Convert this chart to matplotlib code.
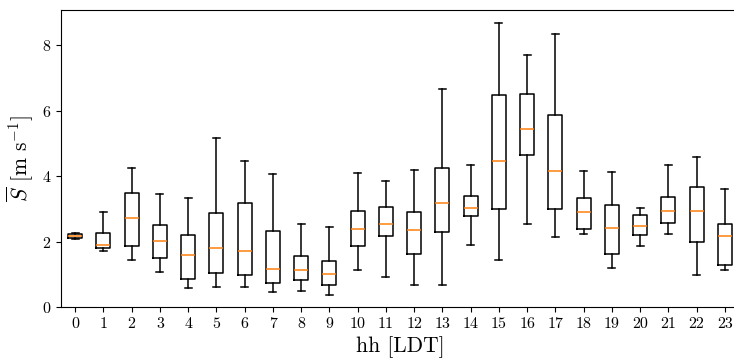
import matplotlib
matplotlib.use("Agg")
import matplotlib.pyplot as plt

# hourly wind speed statistics
hours = list(range(24))
whis_lo = [2.07, 1.71, 1.43, 1.06, 0.58, 0.62, 0.60, 0.45, 0.50, 0.37, 1.14, 0.91,
           0.69, 0.69, 1.89, 1.45, 2.53, 2.14, 2.24, 1.19, 1.86, 2.22, 0.98, 1.12]
q1 = [2.11, 1.82, 1.87, 1.50, 0.85, 1.03, 0.97, 0.73, 0.84, 0.67, 1.88, 2.16,
      1.62, 2.31, 2.79, 3.01, 4.64, 3.01, 2.39, 1.62, 2.21, 2.58, 1.99, 1.30]
med = [2.16, 1.90, 2.72, 2.02, 1.58, 1.82, 1.71, 1.16, 1.14, 1.01, 2.40, 2.53,
       2.35, 3.18, 3.02, 4.46, 5.45, 4.15, 2.92, 2.42, 2.48, 2.95, 2.95, 2.17]
q3 = [2.22, 2.26, 3.50, 2.51, 2.21, 2.87, 3.18, 2.32, 1.55, 1.42, 2.95, 3.06,
      2.92, 4.26, 3.41, 6.49, 6.53, 5.86, 3.33, 3.13, 2.82, 3.36, 3.66, 2.53]
whis_hi = [2.26, 2.92, 4.26, 3.47, 3.34, 5.18, 4.47, 4.06, 2.53, 2.46, 4.10, 3.85,
           4.20, 6.67, 4.34, 8.69, 7.72, 8.35, 4.16, 4.13, 3.02, 4.35, 4.58, 3.60]

plt.rcParams['font.family'] = 'serif'
plt.rcParams['font.serif'] = ['cmr10']
plt.rcParams['mathtext.fontset'] = 'cm'
plt.rcParams['axes.unicode_minus'] = False
plt.rcParams['axes.formatter.use_mathtext'] = True

stats = []
for i in range(len(hours)):
    stats.append(dict(whislo=whis_lo[i], q1=q1[i], med=med[i], q3=q3[i],
                      whishi=whis_hi[i], fliers=[], label=str(hours[i])))

fig = plt.figure(figsize=(7.34, 3.6), dpi=100)
# axes runs a little past the right edge, as in the cropped original
ax = fig.add_axes([0.0831, 0.147, 1.0068 - 0.0831, 0.9736 - 0.147])
lw = 1.1
ax.bxp(stats, positions=hours, widths=0.5, showfliers=False,
       boxprops=dict(linewidth=lw), whiskerprops=dict(linewidth=lw),
       capprops=dict(linewidth=lw), medianprops=dict(linewidth=lw))

ax.set_xlim(-0.5, 23.5)
ax.set_ylim(0, 9.1)
ax.set_yticks([0, 2, 4, 6, 8])
ax.tick_params(labelsize=11.5)
ax.set_xlabel('hh [LDT]', fontsize=15.5)
ax.set_ylabel(r'$\overline{S}$ [m s$^{-1}$]', fontsize=15.5)

fig.savefig('out.png', dpi=100)
